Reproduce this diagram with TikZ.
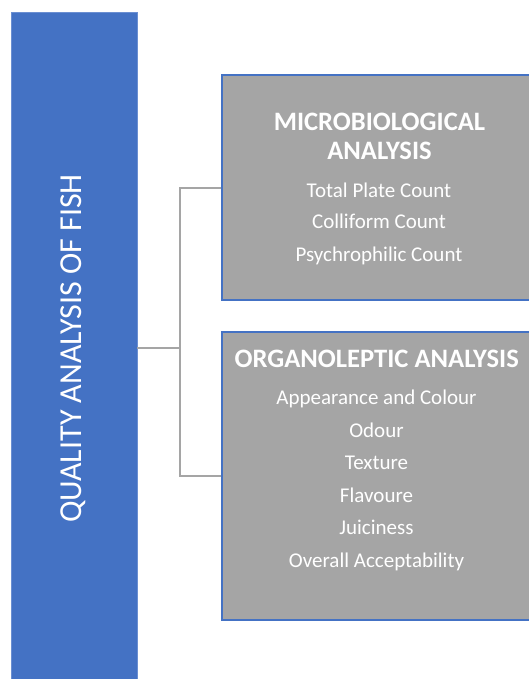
\documentclass[tikz,border=0pt]{standalone}
\usepackage{fontspec}
\setmainfont{Carlito}
\definecolor{offblue}{HTML}{4472C4}
\definecolor{edgeblue}{HTML}{6B8FD2}
\definecolor{offgray}{HTML}{A5A5A5}
\tikzset{
  mainbox/.style={draw=edgeblue, line width=0.8pt, fill=offblue, minimum width=126pt, minimum height=673pt, inner sep=0pt},
  subbox/.style={draw=offblue, line width=2pt, fill=offgray, minimum width=318pt, inner sep=0pt},
  title/.style={text=white, font=\fontsize{26.6}{30}\selectfont\bfseries, inner sep=0pt, text height=0.6em, text depth=0pt},
  item/.style={text=white, font=\fontsize{21}{24}\selectfont, inner sep=0pt, text height=0.6em, text depth=0pt},
  vtitle/.style={text=white, font=\fontsize{32}{36}\selectfont, inner sep=0pt, text height=0.6em, text depth=0pt, rotate=90},
  link/.style={draw=offgray, line width=2pt}
}
\begin{document}
\begin{tikzpicture}[x=1pt, y=-1pt]
\useasboundingbox (0,0) rectangle (529,679);
\clip (0,0) rectangle (529,679);
\node[mainbox] (main) at (74,348.5) {};
\node[vtitle] (maintext) at (78,348.5) {QUALITY ANALYSIS OF FISH};
\node[subbox, minimum height=225pt, anchor=west] (micro) at (221,187.5) {};
\node[subbox, minimum height=288pt, anchor=west] (organo) at (221,476) {};
\coordinate (junction) at (180,348);
\draw[link] (main.east |- junction) -- (junction);
\draw[link] (junction) |- (micro.west);
\draw[link] (junction) |- (organo.west);
% microbiological
\node[title] (m1) at (379.5,127.5) {MICROBIOLOGICAL};
\node[title] (m2) at (379.5,156.5) {ANALYSIS};
\node[item] (m3) at (379,194.5) {Total Plate Count};
\node[item] (m4) at (379,225.5) {Colliform Count};
\node[item] (m5) at (379,258) {Psychrophilic Count};
% organoleptic
\node[title] (o1) at (376.7,364) {ORGANOLEPTIC ANALYSIS};
\node[item] (o2) at (376.5,401) {Appearance and Colour};
\node[item] (o3) at (376.5,434) {Odour};
\node[item] (o4) at (376.5,466.5) {Texture};
\node[item] (o5) at (376.5,499) {Flavoure};
\node[item] (o6) at (376.5,531.5) {Juiciness};
\node[item] (o7) at (376.5,564) {Overall Acceptability};
\end{tikzpicture}
\end{document}
